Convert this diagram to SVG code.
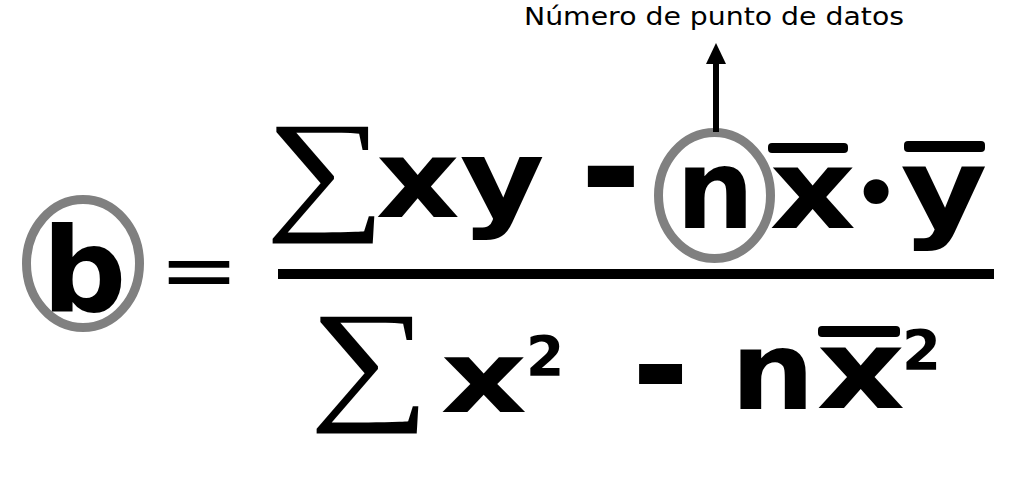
<svg xmlns="http://www.w3.org/2000/svg" width="1027" height="483" viewBox="0 0 1027 483">
<style>
.m{font-family:"DejaVu Sans",sans-serif;font-weight:bold;fill:#000}
.s{font-family:"Liberation Serif",serif;font-weight:normal;fill:#000}
.ring{fill:none;stroke:#808080;stroke-width:9}
.bar{fill:#000}
.lbl{font-family:"DejaVu Sans",sans-serif;font-size:25px;fill:#000}
</style>
<rect width="1027" height="483" fill="#fff"/>
<g id="lhs">
<ellipse class="ring" cx="83" cy="263.5" rx="56.5" ry="64"/>
<text class="m" x="42" y="312" font-size="118">b</text>
</g>
<g id="equals">
<text x="199" y="298" font-size="82" text-anchor="middle" textLength="81" lengthAdjust="spacingAndGlyphs" style="font-family:'DejaVu Sans',sans-serif">=</text>
</g>
<g id="numerator">
<text class="s" x="323" y="217" font-size="125" text-anchor="middle" transform="translate(323,243) scale(1.36,1.08) translate(-321,-243)">∑</text>
<text class="m" x="375.7" y="217" font-size="108" textLength="169" lengthAdjust="spacingAndGlyphs">xy</text>
<text class="m" x="611" y="220" font-size="150" text-anchor="middle">-</text>
<text class="m" x="676" y="228" font-size="110">n</text>
<text class="m" x="769.6" y="228" font-size="110" textLength="86.5" lengthAdjust="spacingAndGlyphs">x</text>
<rect class="bar" x="768" y="143" width="80" height="10" rx="4"/>
<text class="m" x="876" y="223" font-size="86" text-anchor="middle" style="font-weight:normal">•</text>
<text class="m" x="944" y="227" font-size="110" text-anchor="middle" textLength="87" lengthAdjust="spacingAndGlyphs">y</text>
<rect class="bar" x="904" y="141" width="81" height="11" rx="4"/>
</g>
<g id="fraction-bar">
<rect class="bar" x="278" y="269" width="716" height="10"/>
</g>
<g id="denominator">
<text class="s" x="367" y="408" font-size="125" text-anchor="middle" transform="translate(367,433) scale(1.36,1.08) translate(-365,-434)">∑</text>
<text class="m" x="440.6" y="412" font-size="100" textLength="86.6" lengthAdjust="spacingAndGlyphs">x</text>
<text class="m" x="526" y="375" font-size="55">2</text>
<text class="m" x="660.5" y="414.6" font-size="140" text-anchor="middle">-</text>
<text class="m" x="730.5" y="409" font-size="109" textLength="84.4" lengthAdjust="spacingAndGlyphs">n</text>
<text class="m" x="816.5" y="408" font-size="110" textLength="88.6" lengthAdjust="spacingAndGlyphs">x</text>
<rect class="bar" x="818" y="326" width="82" height="11" rx="4"/>
<text class="m" x="902" y="369" font-size="56">2</text>
</g>
<g id="n-highlight">
<ellipse class="ring" cx="714.5" cy="195.5" rx="56" ry="63"/>
</g>
<g id="label">
<text class="lbl" x="524" y="25" textLength="380" lengthAdjust="spacingAndGlyphs">Número de punto de datos</text>
</g>
<g id="connectors">
<line x1="716" y1="132" x2="716" y2="62" stroke="#000" stroke-width="6"/>
<polygon points="716,43 706,64 726,64" fill="#000"/>
</g>
</svg>
